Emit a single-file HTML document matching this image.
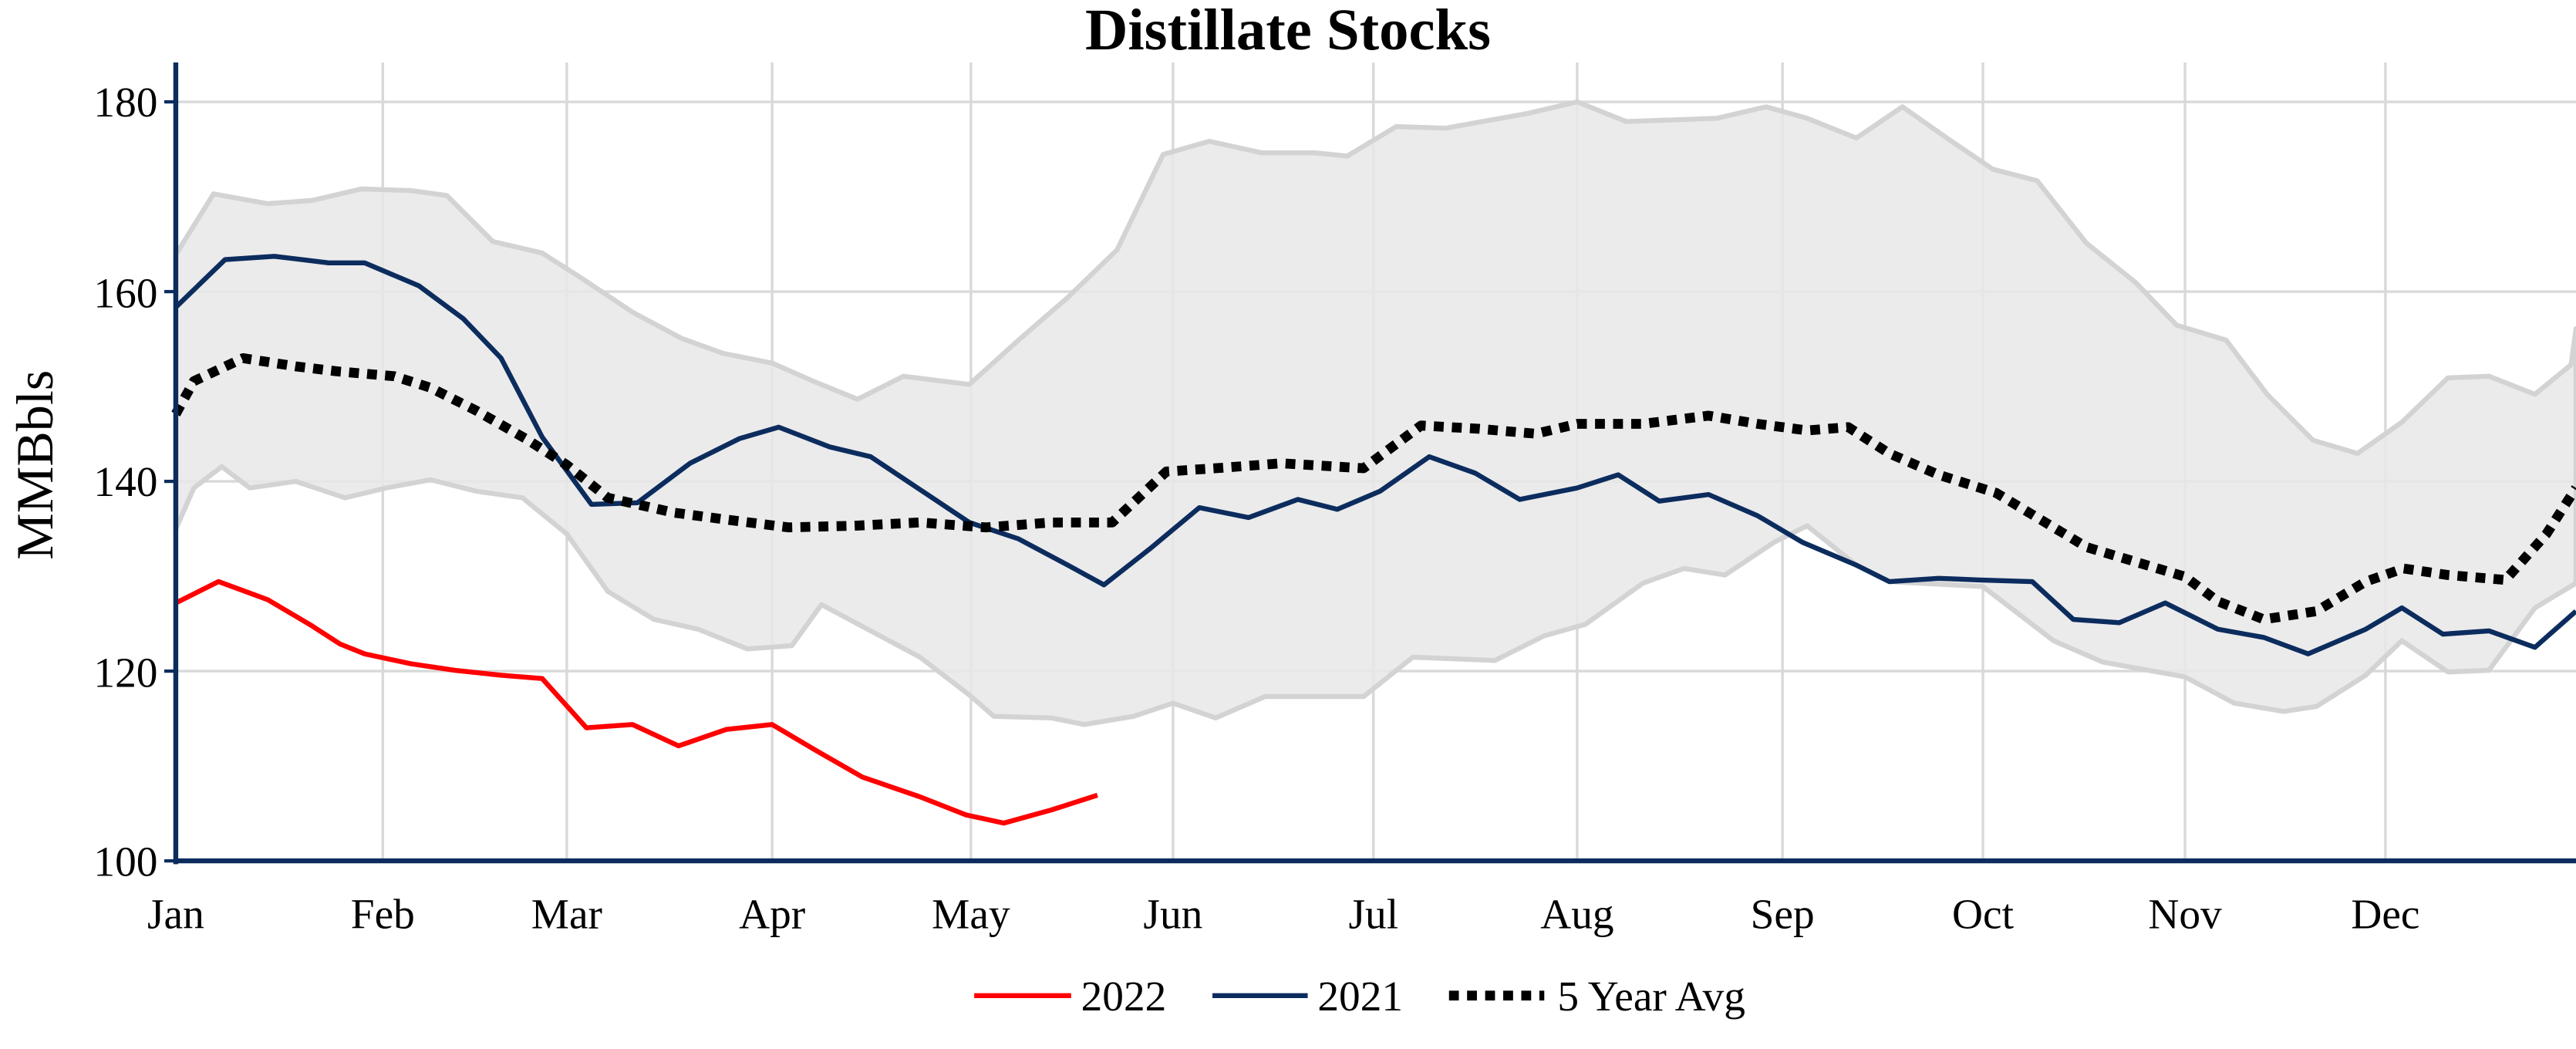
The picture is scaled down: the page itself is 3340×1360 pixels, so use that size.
<!DOCTYPE html>
<html><head><meta charset="utf-8"><style>
html,body{margin:0;padding:0;background:#fff;}
svg{display:block;}
text{font-family:"Liberation Serif",serif;fill:#000;}
</style></head><body>
<svg width="3340" height="1360" viewBox="0 0 1568 638.5" preserveAspectRatio="none">
<rect width="1568" height="638.5" fill="#fff"/>
<g stroke="#d9d9d9" stroke-width="1.6">
<line x1="233" y1="38" x2="233" y2="524"/><line x1="345" y1="38" x2="345" y2="524"/>
<line x1="470" y1="38" x2="470" y2="524"/><line x1="591" y1="38" x2="591" y2="524"/>
<line x1="714" y1="38" x2="714" y2="524"/><line x1="836" y1="38" x2="836" y2="524"/>
<line x1="960" y1="38" x2="960" y2="524"/><line x1="1085" y1="38" x2="1085" y2="524"/>
<line x1="1207" y1="38" x2="1207" y2="524"/><line x1="1330" y1="38" x2="1330" y2="524"/>
<line x1="1452" y1="38" x2="1452" y2="524"/>
<line x1="107" y1="62" x2="1568" y2="62"/><line x1="107" y1="177.5" x2="1568" y2="177.5"/>
<line x1="107" y1="293" x2="1568" y2="293"/><line x1="107" y1="408.5" x2="1568" y2="408.5"/>
</g>
<polygon fill="#e8e8e8" fill-opacity="0.85" stroke="#d3d3d3" stroke-width="3" stroke-linejoin="round" points="107,155 130,118 163,124 190,122 220,115 250,116 272,119 300,147 330,154 355,170 385,190 415,206 440,215 470,221 495,232 522,243 550,229 590,234 620,207 650,181 680,152 708,94 736,86 768,93 800,93 820,95 850,77 880,78 930,69 960,62 990,74 1045,72 1075,65 1100,72 1130,84 1158,65 1185,84 1213,103 1240,110 1270,148 1300,172 1325,198 1355,207 1380,240 1408,268 1435,276 1462,257 1490,230 1515,229 1543,240 1565,222 1568,200 1568,355 1543,370 1515,408 1490,409 1462,390 1440,411 1410,430 1390,433 1360,428 1330,412 1280,403 1250,390 1207,357 1150,354 1130,344 1100,320 1080,330 1050,350 1025,346 1000,355 965,380 940,387 910,402 860,400 830,424 770,424 740,437 714,428 690,436 660,441 640,437 605,436 590,423 560,400 530,384 500,368 482,393 455,395 425,383 398,377 370,360 345,325 318,303 290,299 262,292 235,297 210,303 180,293 152,297 135,284 118,297 107,322"/>
<polyline fill="none" stroke="#0c2c5e" stroke-width="3" stroke-linejoin="round" points="107,187 137,158 167,156 200,160 222,160 255,174 282,194 305,218 330,266 360,307 388,306 420,282 450,267 474,260 505,272 530,278 560,298 590,318 620,328 650,344 672,356 700,334 730,309 760,315 790,304 814,310 840,299 870,278 898,288 925,304 960,297 985,289 1010,305 1040,301 1070,314 1097,330 1130,344 1150,354 1180,352 1205,353 1237,354 1262,377 1290,379 1318,367 1350,383 1378,388 1405,398 1440,383 1462,370 1487,386 1515,384 1543,394 1568,372"/>
<polyline fill="none" stroke="#000" stroke-width="6" stroke-dasharray="6,5" stroke-linejoin="round" points="107,252 118,232 148,218 180,223 205,226 240,229 262,236 290,250 320,267 345,283 370,303 410,312 440,316 480,321 520,320 560,318 600,321 640,318 677,318 710,287 740,285 780,282 830,285 865,259 900,261 935,264 960,258 1000,258 1040,253 1070,258 1100,262 1125,260 1150,276 1180,289 1215,300 1240,315 1270,333 1300,342 1330,351 1350,366 1378,377 1410,372 1440,354 1463,346 1490,350 1525,353 1550,325 1568,297"/>
<polyline fill="none" stroke="#ff0000" stroke-width="3" stroke-linejoin="round" points="107,367 133,354 163,365 190,381 207,392 222,398 250,404 277,408 305,411 330,413 357,443 385,441 413,454 442,444 470,441 497,457 525,473 560,485 588,496 611,501 640,493 668,484"/>
<line x1="107" y1="38" x2="107" y2="526" stroke="#0c2c5e" stroke-width="3"/>
<line x1="106" y1="524" x2="1568" y2="524" stroke="#0c2c5e" stroke-width="3"/>
<g stroke="#0c2c5e" stroke-width="2">
<line x1="100" y1="62" x2="107" y2="62"/><line x1="100" y1="177.5" x2="107" y2="177.5"/>
<line x1="100" y1="293" x2="107" y2="293"/><line x1="100" y1="408.5" x2="107" y2="408.5"/>
<line x1="100" y1="524" x2="107" y2="524"/>
</g>
<g font-size="26" text-anchor="end">
<text x="96" y="71">180</text><text x="96" y="187">160</text><text x="96" y="302">140</text>
<text x="96" y="418">120</text><text x="96" y="533">100</text>
</g>
<g font-size="26" text-anchor="middle">
<text x="107" y="565">Jan</text><text x="233" y="565">Feb</text><text x="345" y="565">Mar</text>
<text x="470" y="565">Apr</text><text x="591" y="565">May</text><text x="714" y="565">Jun</text>
<text x="836" y="565">Jul</text><text x="960" y="565">Aug</text><text x="1085" y="565">Sep</text>
<text x="1207" y="565">Oct</text><text x="1330" y="565">Nov</text><text x="1452" y="565">Dec</text>
</g>
<text x="784" y="30" font-size="36" font-weight="bold" text-anchor="middle">Distillate Stocks</text>
<text transform="translate(32,283) rotate(-90)" font-size="32" text-anchor="middle">MMBbls</text>
<line x1="593" y1="606" x2="652" y2="606" stroke="#ff0000" stroke-width="3"/>
<text x="658" y="615" font-size="26">2022</text>
<line x1="738" y1="606" x2="796" y2="606" stroke="#0c2c5e" stroke-width="3"/>
<text x="802" y="615" font-size="26">2021</text>
<line x1="882" y1="606" x2="940" y2="606" stroke="#000" stroke-width="6" stroke-dasharray="6,5"/>
<text x="948" y="615" font-size="26">5 Year Avg</text>
</svg>
</body></html>
